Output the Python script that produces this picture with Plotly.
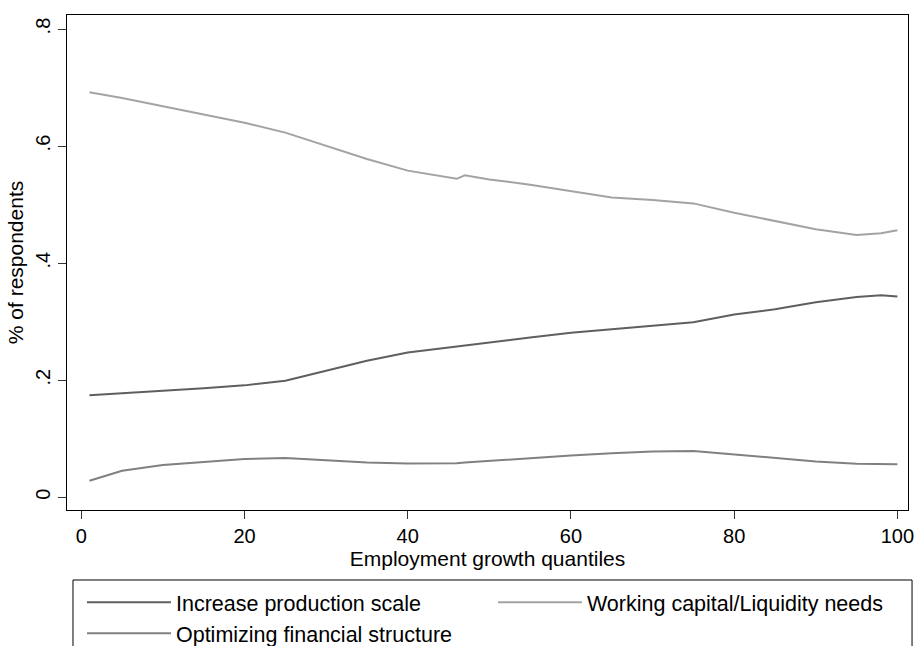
import plotly.graph_objects as go

# Data
quantiles = [1, 5, 10, 15, 20, 25, 30, 35, 40, 45, 46, 47, 50, 55, 60, 65, 70, 75, 80, 85, 90, 95, 98, 100]
increase_production = [0.174, 0.177, 0.182, 0.186, 0.191, 0.199, 0.216, 0.233, 0.247, 0.256, 0.258, 0.259,
                       0.264, 0.273, 0.281, 0.287, 0.293, 0.299, 0.312, 0.321, 0.333, 0.342, 0.345, 0.343]
working_capital = [0.692, 0.682, 0.668, 0.654, 0.640, 0.623, 0.600, 0.578, 0.558, 0.546, 0.544, 0.550,
                   0.543, 0.534, 0.523, 0.512, 0.508, 0.502, 0.486, 0.472, 0.458, 0.448, 0.451, 0.456]
optimizing = [0.028, 0.045, 0.055, 0.060, 0.065, 0.067, 0.063, 0.059, 0.0575, 0.0575, 0.058, 0.059,
              0.062, 0.066, 0.071, 0.075, 0.078, 0.079, 0.073, 0.068, 0.061, 0.057, 0.056, 0.056]

y_tickvals = [0, 0.2, 0.4, 0.6, 0.8]
y_ticktext = ["0", ".2", ".4", ".6", ".8"]
x_tickvals = [0, 20, 40, 60, 80, 100]

FONT = "Liberation Sans, Arial, sans-serif"

fig = go.Figure()
fig.add_trace(go.Scatter(x=quantiles, y=increase_production, mode="lines",
                         name="Increase production scale",
                         line=dict(color="#5f5f5f", width=2)))
fig.add_trace(go.Scatter(x=quantiles, y=working_capital, mode="lines",
                         name="Working capital/Liquidity needs",
                         line=dict(color="#a3a3a3", width=2)))
fig.add_trace(go.Scatter(x=quantiles, y=optimizing, mode="lines",
                         name="Optimizing financial structure",
                         line=dict(color="#808080", width=2)))

fig.update_layout(
    width=916, height=646,
    margin=dict(l=67, r=8, t=15, b=136, autoexpand=False),
    paper_bgcolor="white", plot_bgcolor="white",
    font=dict(family=FONT, size=20, color="black"),
    showlegend=True,
    legend=dict(orientation="h", x=0.0178, y=-0.145, xanchor="left", yanchor="top",
                entrywidth=312, entrywidthmode="pixels", itemwidth=84,
                font=dict(family=FONT, size=21.5, color="black"),
                bgcolor="rgba(0,0,0,0)", borderwidth=0, traceorder="normal"),
    xaxis=dict(range=[-1.75, 101.3], tickmode="array", tickvals=x_tickvals, automargin=False,
               showgrid=False, zeroline=False, showline=True, mirror=True,
               linecolor="black", linewidth=1, ticks="outside", ticklen=8,
               tickcolor="#333333", tickfont=dict(size=20), ticklabeloverflow="allow",
               title=dict(text="Employment growth quantiles", font=dict(size=21), standoff=0)),
    yaxis=dict(range=[-0.022, 0.824], tickmode="array", tickvals=y_tickvals, ticktext=y_ticktext,
               tickangle=-90, automargin=False, showgrid=False, zeroline=False, showline=True, mirror=True,
               linecolor="black", linewidth=1, ticks="outside", ticklen=8,
               tickcolor="#333333", tickfont=dict(size=20),
               title=dict(text="% of respondents", font=dict(size=21), standoff=2)),
    shapes=[dict(type="rect", xref="paper", yref="paper",
                 x0=0.00713, x1=1.0048, y0=-0.32, y1=-0.1414,
                 line=dict(color="black", width=1), fillcolor="rgba(0,0,0,0)", layer="below")],
)

# Remove the default page margin / scrollbars so the figure fills the window exactly.
fig.write_html("out.html",
               config={"displayModeBar": False},
               post_script="document.body.style.margin='0';document.body.style.overflow='hidden';"
                           "document.documentElement.style.overflow='hidden';")
